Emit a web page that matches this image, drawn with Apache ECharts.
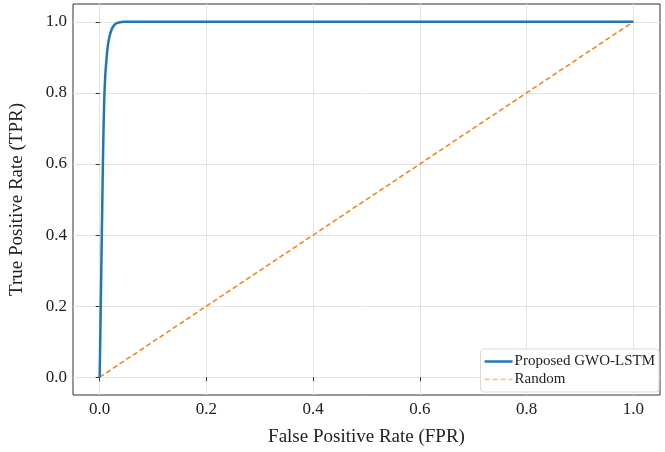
<!DOCTYPE html>
<html><head><meta charset="utf-8">
<script src="https://cdn.jsdelivr.net/npm/echarts@6/dist/echarts.min.js"></script>
<style>html,body{margin:0;padding:0;background:#fff}#c{width:665px;height:452px}</style>
</head><body><div id="c"></div>
<script>
const rocFpr = [0, 0.001, 0.002, 0.003, 0.004, 0.005, 0.006, 0.0075, 0.009, 0.0105, 0.0125, 0.014, 0.016, 0.019, 0.022, 0.025, 0.028, 0.032, 0.036, 0.041, 0.046, 1.0];
const rocTpr = [0, 0.10, 0.20, 0.30, 0.40, 0.50, 0.60, 0.72, 0.80, 0.85, 0.89, 0.915, 0.94, 0.962, 0.977, 0.986, 0.992, 0.996, 0.998, 0.9995, 1.0, 1.0];
const randFpr = [0, 1];
const randTpr = [0, 1];
const ticks = [0, 0.2, 0.4, 0.6, 0.8, 1.0];
const seriesNames = ['Proposed GWO-LSTM', 'Random'];

const font = 'Liberation Serif, Times New Roman, serif';
const solidIcon = 'path://M0,0L28,0L28,2.5L0,2.5Z';
const dashIcon = 'path://M0,0L5,0L5,1.5L0,1.5ZM8,0L13,0L13,1.5L8,1.5ZM16,0L21,0L21,1.5L16,1.5ZM24,0L28,0L28,1.5L24,1.5Z';
const chart = echarts.init(document.getElementById('c'));
chart.setOption({
  animation: false,
  grid: {left: 72, top: 4, right: 5, bottom: 54, show: true, borderColor: '#333', borderWidth: 1, backgroundColor: 'transparent'},
  xAxis: {
    type: 'value', min: -0.05, max: 1.05,
    name: 'False Positive Rate (FPR)', nameLocation: 'middle', nameGap: 33,
    nameTextStyle: {fontFamily: font, fontSize: 19, color: '#222'},
    axisLine: {show: false},
    axisTick: {show: true, length: 4, lineStyle: {color: '#333'}, customValues: ticks},
    axisLabel: {fontFamily: font, fontSize: 17, color: '#222', margin: 6, customValues: ticks,
      formatter: v => v.toFixed(1)},
    splitLine: {show: true, lineStyle: {color: '#e3e3e3', width: 1}}
  },
  yAxis: {
    type: 'value', min: -0.05, max: 1.05,
    name: 'True Positive Rate (TPR)', nameLocation: 'middle', nameGap: 46, nameRotate: 90,
    nameTextStyle: {fontFamily: font, fontSize: 19, color: '#222'},
    axisLine: {show: false},
    axisTick: {show: true, length: 4, lineStyle: {color: '#333'}, customValues: ticks},
    axisLabel: {fontFamily: font, fontSize: 17, color: '#222', margin: 6, customValues: ticks,
      formatter: v => v.toFixed(1)},
    splitLine: {show: true, lineStyle: {color: '#e3e3e3', width: 1}}
  },
  legend: {
    right: 6, bottom: 60, orient: 'vertical', itemGap: 3,
    itemWidth: 28, itemHeight: 2.5,
    backgroundColor: '#fff', borderColor: '#d8d8d8', borderWidth: 1, borderRadius: 3,
    padding: [5, 4, 5, 4],
    textStyle: {fontFamily: font, fontSize: 15, color: '#222', padding: [0, 0, 0, -3]},
    data: [
      {name: seriesNames[0], icon: solidIcon, itemStyle: {color: '#1f77b4'}},
      {name: seriesNames[1], icon: dashIcon, itemStyle: {color: '#ffb77a'}}
    ]
  },
  series: [
    {name: seriesNames[0], type: 'line', showSymbol: false, symbol: 'none',
     data: rocFpr.map((x, i) => [x, rocTpr[i]]), smooth: 0.2,
     lineStyle: {color: '#1f77b4', width: 2.5}, itemStyle: {color: '#1f77b4'}, z: 3},
    {name: seriesNames[1], type: 'line', showSymbol: false, symbol: 'none',
     data: randFpr.map((x, i) => [x, randTpr[i]]),
     lineStyle: {color: '#ff7f0e', width: 1.5, type: [5, 3]}, itemStyle: {color: '#ff7f0e'}, z: 2}
  ]
});
</script></body></html>
